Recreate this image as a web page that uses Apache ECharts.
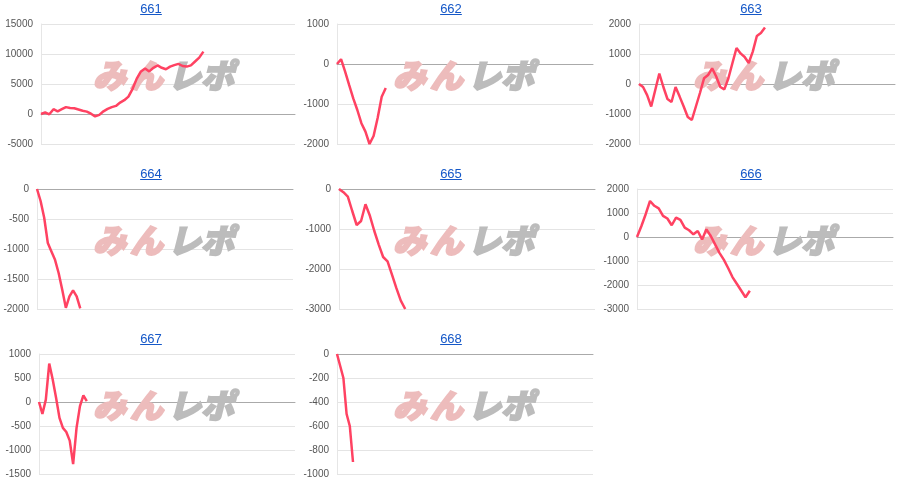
<!DOCTYPE html>
<html>
<head>
<meta charset="utf-8">
<script src="https://cdn.jsdelivr.net/npm/echarts@6/dist/echarts.min.js"></script>
<style>
  html, body { margin: 0; padding: 0; background: #fff; }
  #wrap { position: relative; width: 900px; height: 495px; }
  #chart { position: absolute; left: 0; top: 0; width: 900px; height: 495px; }
  .ttl {
    position: absolute; width: 300px; text-align: center;
    font: 13px "Liberation Sans", Arial, sans-serif; line-height: 16px;
  }
  .ttl a { color: #1558c8; text-decoration: underline; }
</style>
</head>
<body>
<div id="wrap">
  <div id="chart"></div>
</div>
<script>
// 台番号
const titles = ['661', '662', '663', '664', '665', '666', '667', '668'];

// 差枚推移
const d661 = [0, 250, -50, 800, 450, 800, 1150, 1000, 950, 750, 550, 400, 50, -400, -150, 450, 850, 1150, 1350, 1900,
  2300, 2900, 4200, 5900, 7100, 7600, 7100, 7700, 8100, 7700, 7450, 7900, 8150, 8350, 8000, 7900, 8100, 8750, 9400, 10400];
const d662 = [0, 120, -190, -530, -860, -1150, -1480, -1690, -2000, -1800, -1350, -820, -600];
const d663 = [0, -100, -370, -750, -200, 350, -100, -500, -600, -100, -420, -750, -1100, -1200, -750, -300,
  190, 300, 520, 250, -100, -180, 190, 700, 1200, 1020, 900, 700, 1080, 1600, 1700, 1880];
const d664 = [0, -200, -480, -900, -1040, -1180, -1400, -1680, -1980, -1790, -1690, -1790, -1990];
const d665 = [0, -80, -190, -550, -900, -800, -380, -670, -1050, -1390, -1700, -1810, -2140, -2480, -2790, -3000];
const d666 = [0, 450, 950, 1500, 1300, 1190, 880, 770, 490, 810, 710, 390, 280, 110, 250, -100, 320, 40,
  -310, -660, -940, -1290, -1670, -1950, -2230, -2510, -2240];
const d667 = [0, -250, 50, 800, 475, 90, -330, -540, -625, -805, -1295, -540, -85, 140, 20];
const d668 = [0, -100, -200, -500, -600, -900];
const seriesData = [d661, d662, d663, d664, d665, d666, d667, d668];

// 縦軸目盛り
const yMin = [-5000, -2000, -2000, -2000, -3000, -3000, -1500, -1000];
const yMax = [15000, 1000, 2000, 0, 0, 2000, 1000, 0];
const yStep = [5000, 1000, 1000, 500, 1000, 1000, 500, 200];

// レイアウト
const cellW = 300, cellH = 165;
const padLeft = [41, 37, 39, 37, 39, 37, 39, 37];
const padRight = [5, 7, 5, 7, 5, 7, 5, 7];
const xMax = [61, 63, 63, 71, 58, 59, 75, 80];

const wrap = document.getElementById('wrap');
const grids = [], xAxes = [], yAxes = [], series = [], graphics = [];

titles.forEach((t, i) => {
  const col = i % 3, row = Math.floor(i / 3);
  const x0 = col * cellW, y0 = row * cellH;

  // タイトル（リンク）
  const div = document.createElement('div');
  div.className = 'ttl';
  div.style.left = (x0 + 1) + 'px';
  div.style.top = (y0 + 1) + 'px';
  div.innerHTML = '<a href="#">' + t + '</a>';
  wrap.appendChild(div);

  grids.push({
    left: x0 + padLeft[i],
    top: y0 + 24,
    width: cellW - padLeft[i] - padRight[i],
    height: 120,
    outerBoundsMode: 'none'
  });
  xAxes.push({
    type: 'value', gridIndex: i, min: 0, max: xMax[i],
    axisLabel: { show: false }, axisTick: { show: false },
    splitLine: { show: false },
    axisLine: { show: true, onZero: true, lineStyle: { color: '#aaa', width: 1 } }
  });
  yAxes.push({
    type: 'value', gridIndex: i, min: yMin[i], max: yMax[i], interval: yStep[i],
    axisLine: { show: true, lineStyle: { color: '#e6e6e6' } },
    axisTick: { show: false },
    axisLabel: {
      color: '#555', fontSize: 10, margin: 8, fontFamily: 'Liberation Sans, Arial, sans-serif',
      formatter: v => String(v)
    },
    splitLine: { lineStyle: { color: '#e4e4e4' } }
  });
  series.push({
    type: 'line', xAxisIndex: i, yAxisIndex: i,
    data: seriesData[i].map((v, k) => [k, v]),
    showSymbol: false, smooth: false, z: 3,
    lineStyle: { color: '#ff4262', width: 2.5 },
    itemStyle: { color: '#ff4262' }
  });

  // 透かしロゴ
  const pink = '#edbcbc', grey = '#bcbcbc';
  const wm = [
    { ch: 'み', dx: 92, c: pink },
    { ch: 'ん', dx: 129, c: pink },
    { ch: 'レ', dx: 167, c: grey },
    { ch: 'ポ', dx: 200, c: grey }
  ];
  wm.forEach(w => {
    graphics.push({
      type: 'text', left: x0 + w.dx, top: y0 + 58, z: 1, silent: true,
      style: {
        text: w.ch, fill: w.c, stroke: w.c, lineWidth: 2,
        font: 'italic 900 33px "Noto Sans CJK JP"'
      }
    });
  });
});

const chart = echarts.init(document.getElementById('chart'));
chart.setOption({
  animation: false,
  grid: grids,
  xAxis: xAxes,
  yAxis: yAxes,
  series: series,
  graphic: graphics
});
</script>
</body>
</html>
